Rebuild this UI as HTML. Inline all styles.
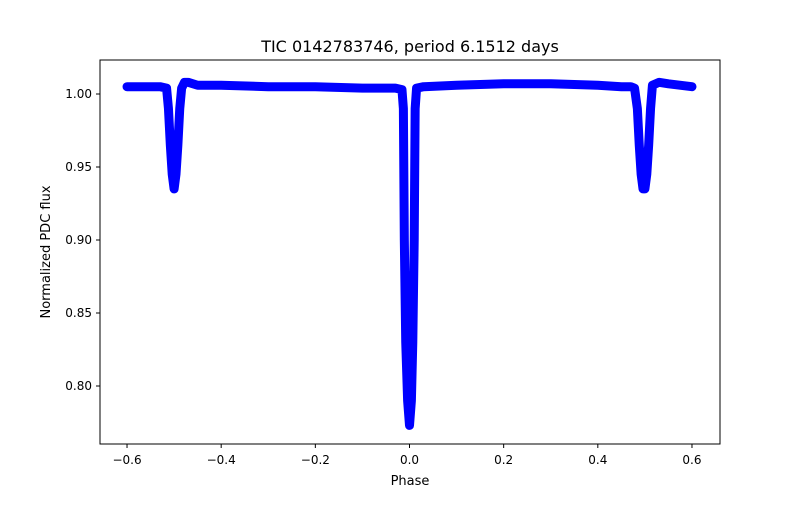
<!DOCTYPE html>
<html><head><meta charset="utf-8"><style>
body{margin:0;background:#fff;font-family:"Liberation Sans","DejaVu Sans",sans-serif}
text{font-family:"DejaVu Sans","Liberation Sans",sans-serif}
</style></head><body>
<svg width="800" height="500" xmlns="http://www.w3.org/2000/svg">
<rect x="0" y="0" width="800" height="500" fill="#fff"/>
<g id="plot"></g>
<rect x="100" y="60" width="620" height="384" fill="none" stroke="#000" stroke-width="1"/>
<g id="xt"></g><g id="yt"></g>
<text x="410" y="52" font-size="16" text-anchor="middle">TIC 0142783746, period 6.1512 days</text>
<text x="410" y="485" font-size="13" text-anchor="middle">Phase</text>
<text x="50" y="252" font-size="13" text-anchor="middle" transform="rotate(-90 50 252)">Normalized PDC flux</text>
</svg>
<script>
const phases=[-0.6,-0.55,-0.53,-0.516,-0.512,-0.508,-0.504,-0.5,-0.496,-0.492,-0.488,-0.484,-0.478,-0.47,-0.45,-0.4,-0.3,-0.2,-0.1,-0.03,-0.016,-0.013,-0.011,-0.008,-0.004,0,0.004,0.007,0.010,0.012,0.015,0.03,0.1,0.2,0.3,0.4,0.45,0.47,0.478,0.484,0.488,0.492,0.496,0.5,0.504,0.508,0.512,0.516,0.53,0.55,0.6];
const fluxes=[1.005,1.005,1.005,1.004,0.99,0.965,0.945,0.935,0.945,0.965,0.99,1.004,1.008,1.008,1.006,1.006,1.005,1.005,1.004,1.004,1.003,0.99,0.90,0.83,0.79,0.773,0.79,0.83,0.90,0.99,1.004,1.005,1.006,1.007,1.007,1.006,1.005,1.005,1.004,0.99,0.965,0.945,0.935,0.935,0.945,0.965,0.99,1.006,1.008,1.007,1.005];
const xTicks=[-0.6,-0.4,-0.2,0.0,0.2,0.4,0.6];
const yTicks=[0.80,0.85,0.90,0.95,1.00];
const X=p=>409.5+p*470.8;
const Y=f=>94+(1.0-f)*1460;
const NS='http://www.w3.org/2000/svg';
const plot=document.getElementById('plot');
const line=document.createElementNS(NS,'polyline');
line.setAttribute('points',phases.map((p,i)=>X(p)+','+Y(fluxes[i])).join(' '));
line.setAttribute('fill','none');line.setAttribute('stroke','#0000ff');
line.setAttribute('stroke-width','9');line.setAttribute('stroke-linejoin','round');line.setAttribute('stroke-linecap','round');


plot.appendChild(line);
const xt=document.getElementById('xt');
xTicks.forEach(t=>{const x=X(t);
const l=document.createElementNS(NS,'line');l.setAttribute('x1',x);l.setAttribute('x2',x);l.setAttribute('y1',444);l.setAttribute('y2',448);l.setAttribute('stroke','#000');


xt.appendChild(l);
const s=document.createElementNS(NS,'text');s.setAttribute('x',x);s.setAttribute('y',464);s.setAttribute('font-size','12');s.setAttribute('text-anchor','middle');
s.textContent=(t<0?'\u2212':'')+Math.abs(t).toFixed(1);


xt.appendChild(s);});
const yt=document.getElementById('yt');
yTicks.forEach(t=>{const y=Y(t);
const l=document.createElementNS(NS,'line');l.setAttribute('x1',96);l.setAttribute('x2',100);l.setAttribute('y1',y);l.setAttribute('y2',y);l.setAttribute('stroke','#000');


yt.appendChild(l);
const s=document.createElementNS(NS,'text');s.setAttribute('x',92);s.setAttribute('y',y+4);s.setAttribute('font-size','12');s.setAttribute('text-anchor','end');
s.textContent=t.toFixed(2);


yt.appendChild(s);});
</script>
</body></html>
